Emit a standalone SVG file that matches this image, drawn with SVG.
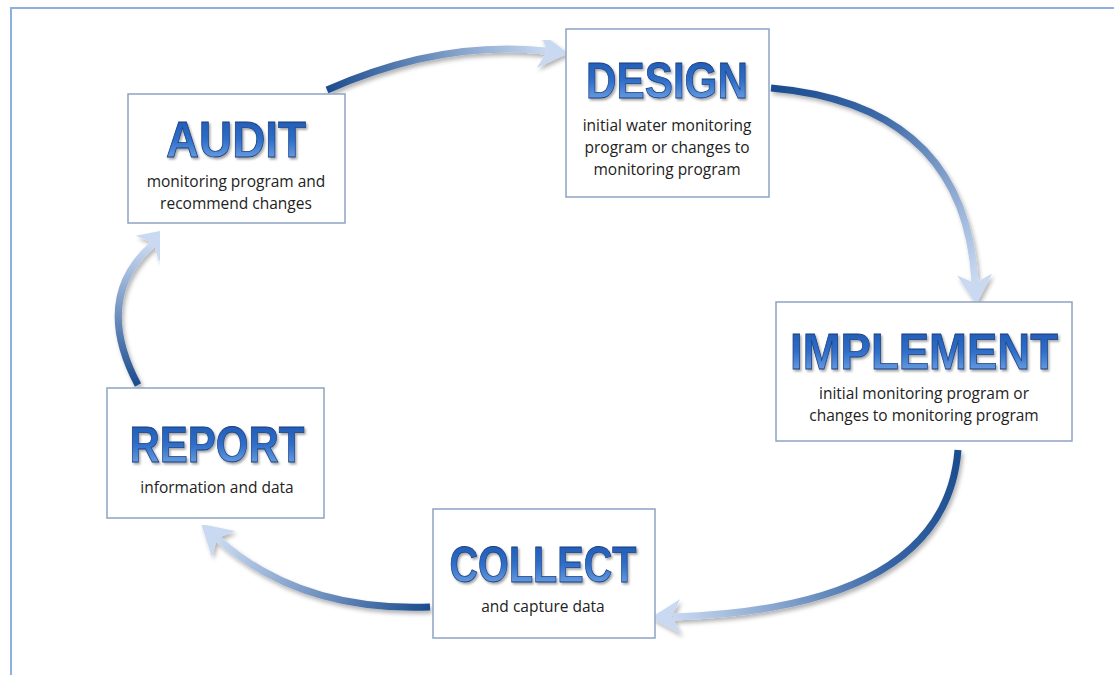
<svg xmlns="http://www.w3.org/2000/svg" width="1114" height="675" viewBox="0 0 1114 675">
<defs>
<style>
.box{fill:#fff;stroke:#8ea3c3;stroke-width:1.5}
.title{font-family:"Liberation Sans",Arial,sans-serif;font-weight:bold;font-size:50px;fill:url(#tg);stroke:#1b3f7e;stroke-width:0.8;text-anchor:middle;filter:url(#tsh)}
.sub{font-family:"Open Sans","Liberation Sans",sans-serif;font-size:15.5px;fill:#222;text-anchor:middle}
.arr{fill:none;stroke-width:7;stroke-linecap:butt;filter:url(#ash)}
</style>
<linearGradient id="tg" x1="0" y1="0" x2="0" y2="1">
<stop offset="0" stop-color="#1d56ad"/>
<stop offset="0.5" stop-color="#2f6fca"/>
<stop offset="1" stop-color="#86b4ec"/>
</linearGradient>
<filter id="tsh" x="-10%" y="-20%" width="120%" height="150%">
<feDropShadow dx="1.5" dy="2" stdDeviation="1.2" flood-color="#000" flood-opacity="0.35"/>
</filter>
<filter id="ash" x="-20%" y="-20%" width="140%" height="140%">
<feDropShadow dx="2" dy="3" stdDeviation="2" flood-color="#000" flood-opacity="0.3"/>
</filter>
<marker id="head" markerUnits="userSpaceOnUse" markerWidth="40" markerHeight="40" viewBox="-6 -16 30 32" refX="2" refY="0" orient="auto">
<path d="M20,0 L-4,-14 L3,0 L-4,14 Z" fill="#c9d9f1"/>
</marker>
<linearGradient id="g1" gradientUnits="userSpaceOnUse" x1="327" y1="90" x2="548" y2="51"><stop offset="0" stop-color="#1c4d8f"/><stop offset="1" stop-color="#c9d9f1"/></linearGradient>
<linearGradient id="g2" gradientUnits="userSpaceOnUse" x1="771" y1="88" x2="975" y2="282"><stop offset="0" stop-color="#1c4d8f"/><stop offset="0.35" stop-color="#3c69a8"/><stop offset="1" stop-color="#c9d9f1"/></linearGradient>
<linearGradient id="g3" gradientUnits="userSpaceOnUse" x1="958" y1="450" x2="672" y2="617"><stop offset="0" stop-color="#1c4d8f"/><stop offset="0.35" stop-color="#3563a3"/><stop offset="1" stop-color="#c9d9f1"/></linearGradient>
<linearGradient id="g4" gradientUnits="userSpaceOnUse" x1="430" y1="607" x2="218" y2="540"><stop offset="0" stop-color="#1c4d8f"/><stop offset="1" stop-color="#c9d9f1"/></linearGradient>
<linearGradient id="g5" gradientUnits="userSpaceOnUse" x1="138" y1="385" x2="152" y2="245"><stop offset="0" stop-color="#1c4d8f"/><stop offset="1" stop-color="#c9d9f1"/></linearGradient>
</defs>
<rect x="0" y="0" width="1114" height="675" fill="#fff"/>
<rect x="11" y="8" width="1130" height="700" fill="none" stroke="#8fb0df" stroke-width="2"/>
<g id="connectors">
<path class="arr" stroke="url(#g1)" marker-end="url(#head)" d="M327,90 Q440,40 546,51"/>
<path class="arr" stroke="url(#g2)" marker-end="url(#head)" d="M771,88 Q965,105 975,282"/>
<path class="arr" stroke="url(#g3)" marker-end="url(#head)" d="M958,450 Q945,608 673,617"/>
<path class="arr" stroke="url(#g4)" marker-end="url(#head)" d="M430,607 Q300,612 218,539"/>
<path class="arr" stroke="url(#g5)" marker-end="url(#head)" d="M138,385 Q92,298 153,244"/>
</g>
<g id="audit">
<rect class="box" x="128" y="94" width="217" height="129"/>
<text class="title" x="236" y="157" textLength="140" lengthAdjust="spacingAndGlyphs">AUDIT</text>
<text class="sub" x="236" y="187">monitoring program and</text>
<text class="sub" x="236" y="209">recommend changes</text>
</g>
<g id="design">
<rect class="box" x="566" y="29" width="203" height="168"/>
<text class="title" x="667" y="98" textLength="162" lengthAdjust="spacingAndGlyphs">DESIGN</text>
<text class="sub" x="667" y="131">initial water monitoring</text>
<text class="sub" x="667" y="153">program or changes to</text>
<text class="sub" x="667" y="175">monitoring program</text>
</g>
<g id="implement">
<rect class="box" x="776" y="302" width="296" height="139"/>
<text class="title" x="924" y="369" textLength="268" lengthAdjust="spacingAndGlyphs">IMPLEMENT</text>
<text class="sub" x="924" y="399">initial monitoring program or</text>
<text class="sub" x="924" y="421">changes to monitoring program</text>
</g>
<g id="report">
<rect class="box" x="107" y="388" width="217" height="130"/>
<text class="title" x="217" y="462" textLength="175" lengthAdjust="spacingAndGlyphs">REPORT</text>
<text class="sub" x="217" y="493">information and data</text>
</g>
<g id="collect">
<rect class="box" x="433" y="509" width="222" height="129"/>
<text class="title" x="543" y="582" textLength="187" lengthAdjust="spacingAndGlyphs">COLLECT</text>
<text class="sub" x="543" y="612">and capture data</text>
</g>
</svg>
